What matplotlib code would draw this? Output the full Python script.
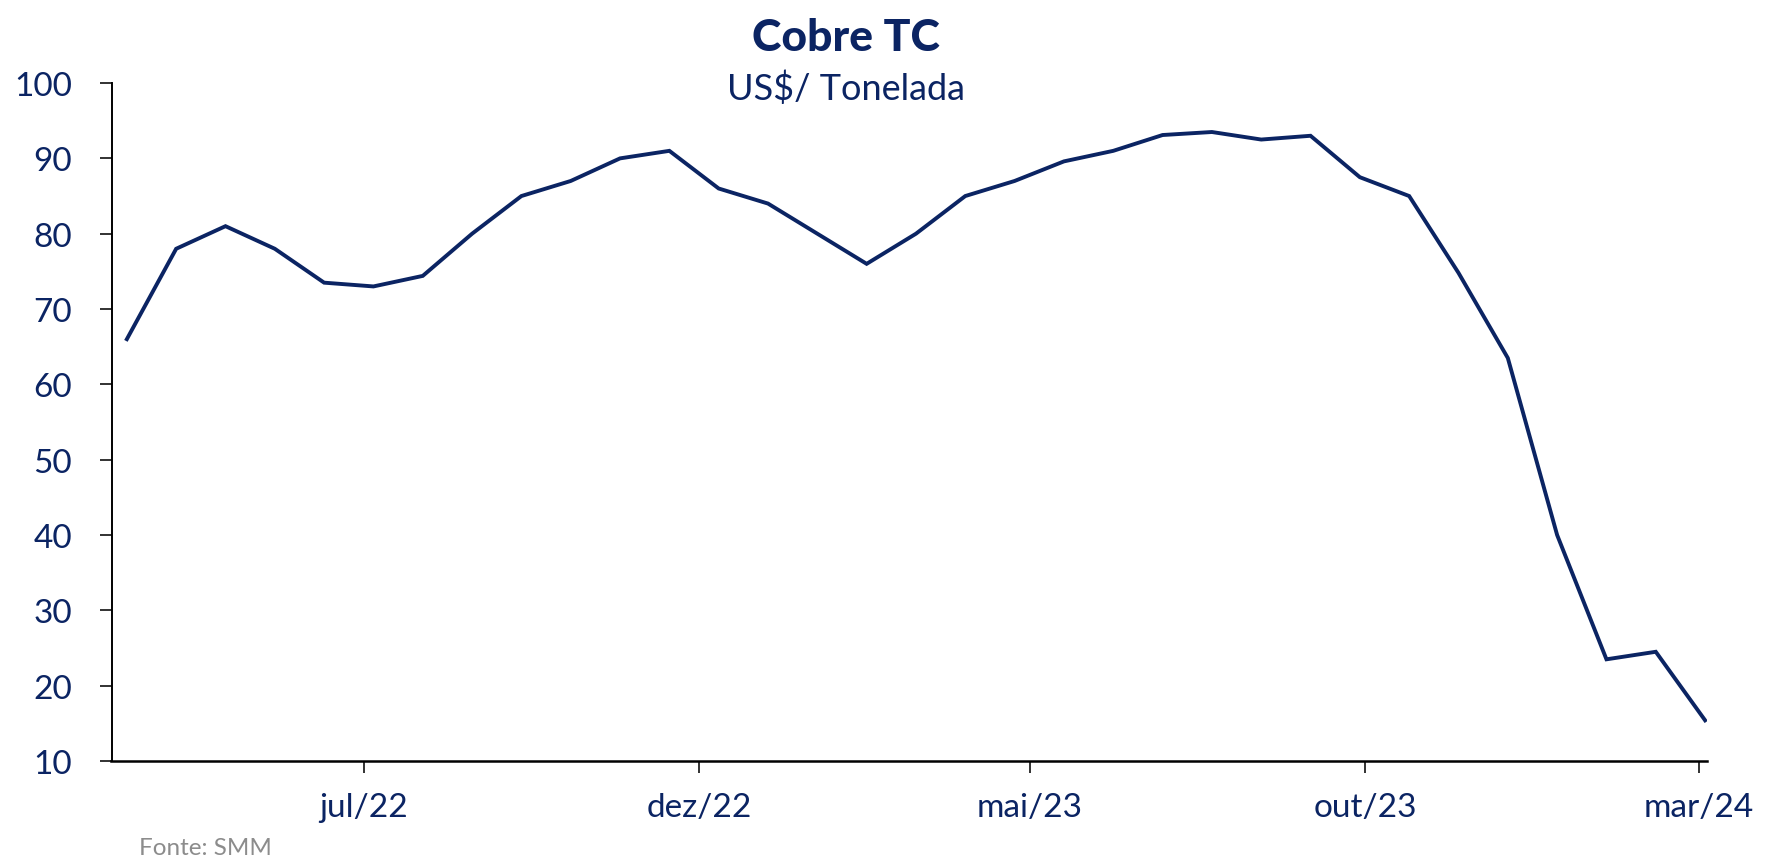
import numpy as np
import pandas as pd
import matplotlib
matplotlib.use("Agg")
import matplotlib.pyplot as plt
import matplotlib.dates as mdates

# Data
dates = pd.date_range("2022-03-15", "2024-03-04", periods=33)
values = [66, 78, 81, 78, 73.5, 73, 74.4, 80, 85, 87, 90, 91, 86, 84, 80, 76,
          80, 85, 87, 89.6, 91, 93.1, 93.5, 92.5, 93, 87.5, 85, 74.8, 63.5,
          40, 23.5, 24.5, 15.4]

tick_dates = pd.to_datetime(["2022-07-01", "2022-12-01", "2023-05-01",
                             "2023-10-01", "2024-03-01"])
tick_labels = ["jul/22", "dez/22", "mai/23", "out/23", "mar/24"]
y_ticks = [10, 20, 30, 40, 50, 60, 70, 80, 90, 100]

navy = "#0b2463"
plt.rcParams["font.family"] = ["Lato", "DejaVu Sans"]

fig = plt.figure(figsize=(17.84, 8.62), dpi=100)
ax = fig.add_axes([0.0625, 0.116, 0.8945, 0.7865])

ax.plot(dates, values, color=navy, linewidth=2.8, solid_joinstyle="miter")

ax.set_ylim(10, 100)
ax.set_yticks(y_ticks)
ax.set_xlim(pd.Timestamp("2022-03-08"), pd.Timestamp("2024-03-05"))
ax.set_xticks(mdates.date2num(tick_dates))
ax.set_xticklabels(tick_labels)

for s in ["top", "right"]:
    ax.spines[s].set_visible(False)
ax.spines["left"].set_linewidth(1.4)
ax.spines["bottom"].set_linewidth(1.8)

ax.tick_params(axis="y", length=8.5, width=1.3, colors="#222222",
               labelcolor=navy, labelsize=24, pad=20)
ax.tick_params(axis="x", length=8.5, width=1.3, colors="#222222",
               labelcolor=navy, labelsize=24, pad=14)

fig.text(0.474, 0.941, "Cobre TC", ha="center", va="baseline",
         fontsize=32, fontweight="black", color=navy)
fig.text(0.474, 0.884, "US$/ Tonelada", ha="center", va="baseline",
         fontsize=26, color=navy)
fig.text(0.078, 0.008, "Fonte: SMM", ha="left", va="baseline",
         fontsize=17.5, color="#8c8c8c")

fig.savefig("out.png", dpi=100)
